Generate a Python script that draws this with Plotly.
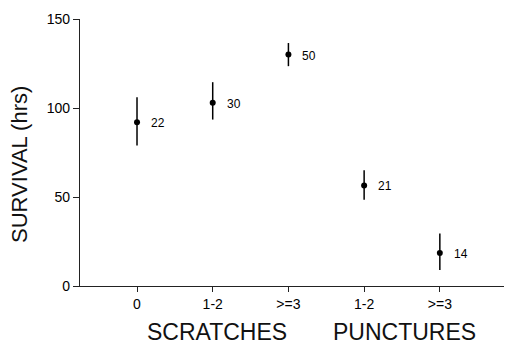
import plotly.graph_objects as go

categories = ["0", "1-2", ">=3", "1-2", ">=3"]
positions = [1, 2, 3, 4, 5]
survival = [92, 103, 130, 56.5, 18.5]
err_plus = [14, 11.5, 6.5, 8.5, 11]
err_minus = [13, 9.5, 6.5, 8, 9.5]
counts = ["22", "30", "50", "21", "14"]
group_titles = ["SCRATCHES", "PUNCTURES"]
group_centers = [2.06, 4.53]
yticks = [0, 50, 100, 150]
y_title = "SURVIVAL (hrs)"

FONT = "Liberation Sans, Arial, sans-serif"

fig = go.Figure()
fig.add_trace(go.Scatter(
    x=positions, y=survival, mode="markers",
    marker=dict(color="black", size=6),
    error_y=dict(type="data", symmetric=False, array=err_plus, arrayminus=err_minus,
                 color="black", thickness=1.5, width=0),
    showlegend=False, hoverinfo="skip",
))

for xp, yv, c in zip(positions, survival, counts):
    fig.add_annotation(x=xp, y=yv, text=c, showarrow=False, xanchor="left",
                       xshift=12, yshift=-1, font=dict(family=FONT, size=12, color="black"))

for t, xc in zip(group_titles, group_centers):
    fig.add_annotation(x=xc, y=0, yref="y", text=t, showarrow=False, yanchor="middle",
                       yshift=-46, font=dict(family=FONT, size=23, color="#111"))

fig.add_annotation(xref="paper", x=0, y=68, yref="y", text=y_title, textangle=-90,
                   showarrow=False, xanchor="center", yanchor="middle", xshift=-60,
                   font=dict(family=FONT, size=22, color="#111"))

fig.update_layout(
    width=504, height=336,
    margin=dict(l=72, r=1, t=11, b=58),
    paper_bgcolor="white", plot_bgcolor="white",
    font=dict(family=FONT, color="black"),
    xaxis=dict(range=[0.247, 5.94], tickmode="array", tickvals=positions,
               ticktext=categories, showline=True, linecolor="#222", linewidth=1.3,
               ticks="outside", ticklen=5, tickcolor="#222", showgrid=False,
               zeroline=False, tickfont=dict(size=14, family=FONT)),
    yaxis=dict(range=[0, 150], tickmode="array", tickvals=yticks,
               showline=True, linecolor="#222", linewidth=1.3,
               ticks="outside", ticklen=6, tickcolor="#222", showgrid=False,
               zeroline=False, tickfont=dict(size=14, family=FONT)),
)

fig.write_html("out.html")
